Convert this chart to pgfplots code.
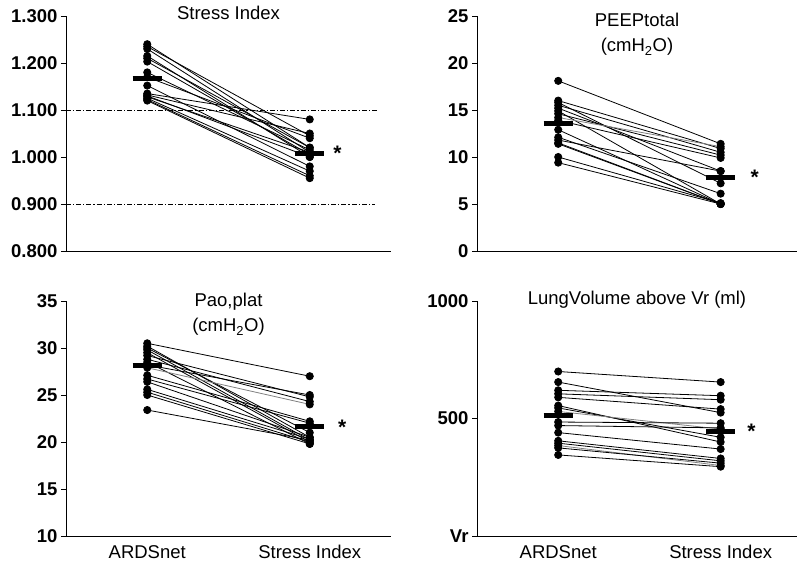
\documentclass[border=0pt]{standalone}
\usepackage{fontspec}
\setmainfont{Liberation Sans}
\usepackage{pgfplots}
\pgfplotsset{compat=1.18}

% one subject: ARDSnet value, Stress Index value
\newcommand\pr[2]{\addplot[pair] coordinates {(0,#1)(1,#2)};}
\newcommand\prg[2]{\addplot[pair, gray] coordinates {(0,#1)(1,#2)};}

\pgfplotsset{
  panel/.style={
    scale only axis, width=325pt, height=235pt,
    xmin=-0.5, xmax=1.5,
    axis x line=bottom, axis y line=left,
    axis line style={-, line width=0.9pt},
    every outer x axis line/.append style={-},
    every outer y axis line/.append style={-},
    tick align=outside, major tick length=5pt,
    major tick style={line width=0.9pt, black},
    major x tick style={draw=none},
    xtick=\empty,
    y tick label style={font=\fontsize{18.5}{20}\selectfont\bfseries},
    x tick label style={font=\fontsize{18.5}{20}\selectfont, yshift=-1pt},
    /pgf/number format/assume math mode=true,
    clip=false,
  },
  bottompanel/.style={xtick={0,1}, xticklabels={ARDSnet, Stress Index}},
  pair/.style={black, line width=0.8pt, mark=*, mark size=3.6pt,
    mark options={solid, fill=black, draw=black}},
  meanbar/.style={black, line width=5pt, no marks},
}
\tikzset{
  ttl/.style={anchor=north, align=center, font=\fontsize{18.5}{25}\selectfont},
  star/.style={font=\fontsize{21}{22}\selectfont\bfseries},
}

\begin{document}
\begin{tikzpicture}
\useasboundingbox (-66pt,-27pt) rectangle (731pt,536pt);

% Stress Index
\begin{axis}[panel, at={(0pt,285pt)},
    ymin=0.8, ymax=1.3, ytick={0.8,0.9,1.0,1.1,1.2,1.3},
    yticklabel style={/pgf/number format/.cd, fixed, fixed zerofill, precision=3}]
\addplot[black, line width=0.6pt, dash pattern=on 5pt off 2pt on 1.2pt off 2pt] coordinates {(-0.5,1.1)(1.42,1.1)};
\addplot[black, line width=0.6pt, dash pattern=on 5pt off 2pt on 1.2pt off 2pt] coordinates {(-0.5,0.9)(1.40,0.9)};
\pr{1.240}{1.020}
\pr{1.235}{1.045}
\pr{1.230}{1.010}
\pr{1.215}{1.000}
\pr{1.210}{1.020}
\pr{1.203}{1.005}
\pr{1.180}{1.015}
\pr{1.170}{1.040}
\pr{1.152}{0.980}
\pr{1.135}{1.080}
\pr{1.132}{1.050}
\pr{1.130}{1.000}
\pr{1.128}{1.010}
\pr{1.125}{0.970}
\pr{1.122}{0.960}
\pr{1.120}{0.955}
\addplot[meanbar] coordinates {(-0.09,1.167)(0.09,1.167)};
\addplot[meanbar] coordinates {(0.91,1.008)(1.09,1.008)};
\node[star] at (axis cs:1.17,1.008) {*};
\node[ttl] at (rel axis cs:0.5,1) [yshift=13pt] {Stress Index};
\end{axis}

% PEEPtotal
\begin{axis}[panel, at={(411pt,285pt)}, width=320pt, xmax=1.47,
    ymin=0, ymax=25, ytick={0,5,10,15,20,25}]
\pr{18.1}{11.4}
\pr{16.0}{10.9}
\pr{15.8}{7.2}
\pr{15.5}{10.5}
\pr{15.2}{8.5}
\pr{14.9}{5.0}
\pr{14.6}{10.2}
\prg{14.2}{11.1}
\pr{13.9}{9.9}
\pr{12.9}{5.0}
\pr{12.1}{6.1}
\pr{11.8}{8.5}
\pr{11.5}{5.0}
\pr{11.4}{5.0}
\pr{10.0}{5.1}
\pr{9.4}{5.0}
\addplot[meanbar] coordinates {(-0.09,13.6)(0.09,13.6)};
\addplot[meanbar] coordinates {(0.91,7.8)(1.09,7.8)};
\node[star] at (axis cs:1.21,7.8) {*};
\node[ttl] at (rel axis cs:0.5,1) [yshift=6pt] {PEEPtotal\\(cmH\textsubscript{2}O)};
\end{axis}

% Pao,plat
\begin{axis}[panel, bottompanel, at={(0pt,0pt)},
    ymin=10, ymax=35, ytick={10,15,20,25,30,35}]
\pr{30.5}{27.0}
\pr{30.2}{20.5}
\pr{30.0}{21.0}
\pr{29.8}{20.2}
\pr{29.5}{20.0}
\pr{29.2}{24.8}
\pr{28.8}{24.3}
\pr{28.5}{19.8}
\pr{28.2}{25.0}
\prg{27.9}{24.0}
\pr{27.1}{22.2}
\pr{26.7}{22.0}
\pr{26.4}{20.5}
\pr{25.6}{20.3}
\pr{25.3}{20.0}
\pr{25.0}{19.8}
\pr{23.4}{20.2}
\addplot[meanbar] coordinates {(-0.09,28.1)(0.09,28.1)};
\addplot[meanbar] coordinates {(0.91,21.6)(1.09,21.6)};
\node[star] at (axis cs:1.2,21.6) {*};
\node[ttl] at (rel axis cs:0.5,1) [yshift=11pt] {Pao,plat\\(cmH\textsubscript{2}O)};
\end{axis}

% Lung volume above Vr
\begin{axis}[panel, bottompanel, at={(411pt,0pt)}, width=320pt, xmax=1.47,
    ymin=0, ymax=1000, ytick={0,500,1000}, yticklabels={Vr,500,1000}]
\pr{700}{655}
\pr{655}{525}
\pr{620}{597}
\pr{605}{580}
\pr{590}{540}
\pr{555}{400}
\pr{545}{420}
\prg{530}{455}
\pr{485}{480}
\pr{470}{460}
\pr{440}{370}
\pr{405}{330}
\pr{395}{320}
\prg{385}{300}
\pr{375}{310}
\pr{345}{295}
\addplot[meanbar] coordinates {(-0.09,513)(0.09,513)};
\addplot[meanbar] coordinates {(0.91,445)(1.09,445)};
\node[star] at (axis cs:1.19,445) {*};
\node[ttl] at (rel axis cs:0.5,1) [yshift=13pt] {LungVolume above Vr (ml)};
\end{axis}
\end{tikzpicture}
\end{document}
